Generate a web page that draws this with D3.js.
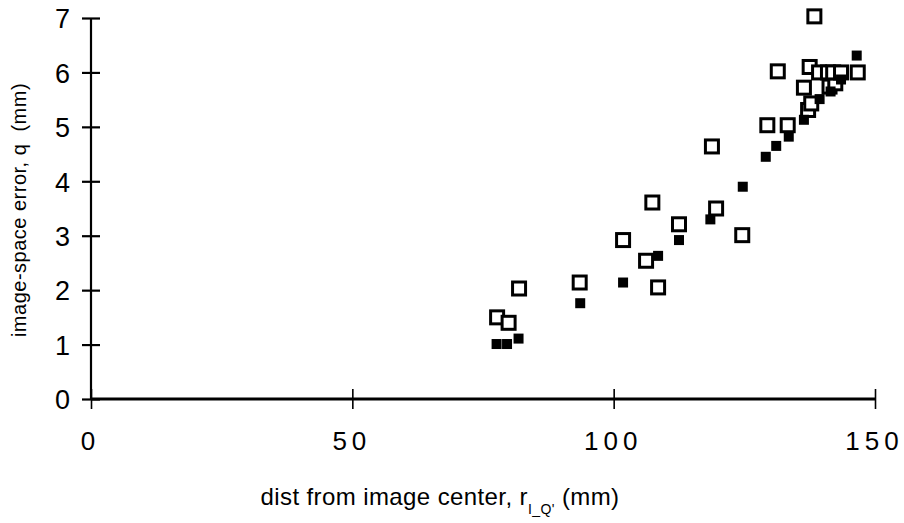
<!DOCTYPE html>
<html>
<head>
<meta charset="utf-8">
<script src="https://cdn.jsdelivr.net/npm/d3@7"></script>
<style>
  html, body { margin: 0; padding: 0; background: #fff; }
  svg { display: block; }
  text { font-family: "Liberation Sans", Arial, sans-serif; fill: #000; }
</style>
</head>
<body>
<svg id="chart" width="904" height="523"></svg>
<script>
// Distance from image centre (mm) and image-space error (mm), two measurement sets
const openX = [77.7, 79.9, 81.9, 93.5, 101.8, 106.2, 107.4, 108.5, 112.5, 118.8, 119.6, 124.6,
               129.4, 131.4, 133.3, 136.4, 137.2, 137.8, 137.5, 138.4, 139.3, 141.3, 142.4,
               141.0, 142.0, 143.5, 146.7];
const openY = [1.50, 1.40, 2.03, 2.14, 2.92, 2.54, 3.61, 2.05, 3.21, 4.64, 3.50, 3.01,
               5.03, 6.02, 5.03, 5.72, 5.31, 5.43, 6.10, 7.03, 6.00, 5.74, 5.80,
               6.00, 6.00, 6.00, 6.00];

const filledX = [77.6, 79.6, 81.8, 93.6, 101.8, 108.5, 112.5, 118.5, 124.7, 129.1, 131.1,
                 133.5, 136.4, 139.4, 141.5, 143.5, 146.5];
const filledY = [1.01, 1.01, 1.11, 1.76, 2.14, 2.63, 2.92, 3.30, 3.90, 4.45, 4.65,
                 4.82, 5.13, 5.51, 5.65, 5.87, 6.31];

const xTicks = [0, 50, 100, 150];
const yTicks = [0, 1, 2, 3, 4, 5, 6, 7];

const svg = d3.select("#chart");
const x = d3.scaleLinear().domain([0, 150]).range([91, 875]);
const y = d3.scaleLinear().domain([0, 7]).range([399, 18]);

// Y axis: crossing ticks
const yAxis = svg.append("g")
  .attr("transform", `translate(${x(0)},0)`)
  .call(d3.axisLeft(y).tickValues(yTicks).tickSize(0).tickPadding(21)
        .tickFormat(d3.format("d")));
yAxis.select(".domain").attr("stroke", "#000").attr("stroke-width", 2.2)
  .attr("d", `M0,${y(7)}V${y(0)}`);
yAxis.selectAll(".tick line").attr("x1", -9).attr("x2", 9)
  .attr("stroke", "#000").attr("stroke-width", 2.2);
yAxis.selectAll(".tick text").style("font-size", "27px").attr("dy", "0.36em");

// X axis: crossing ticks, spaced digits
const xAxis = svg.append("g")
  .attr("transform", `translate(0,${y(0)})`)
  .call(d3.axisBottom(x).tickValues(xTicks).tickSize(0).tickPadding(46)
        .tickFormat(d3.format("d")));
xAxis.select(".domain").attr("stroke", "#000").attr("stroke-width", 3.2)
  .attr("d", `M${x(0)},0H${x(150)}`);
xAxis.selectAll(".tick line").attr("y1", -10).attr("y2", 10)
  .attr("stroke", "#000").attr("stroke-width", 1.6);
xAxis.selectAll(".tick text")
  .style("font-size", "26px")
  .style("letter-spacing", "5px")
  .attr("dx", "-1px")
  .attr("dy", "0.2em");
xAxis.selectAll(".domain, .tick").raise();

// Open squares (white interior)
const openPts = openX.map((v, i) => ({ x: v, y: openY[i] }));
svg.append("g").selectAll("rect").data(openPts).join("rect")
  .attr("x", d => x(d.x) - 6.5)
  .attr("y", d => y(d.y) - 6.5)
  .attr("width", 13).attr("height", 13)
  .attr("fill", "#fff").attr("stroke", "#000").attr("stroke-width", 3);

// Filled squares
const filledPts = filledX.map((v, i) => ({ x: v, y: filledY[i] }));
svg.append("g").selectAll("rect").data(filledPts).join("rect")
  .attr("x", d => x(d.x) - 5)
  .attr("y", d => y(d.y) - 5)
  .attr("width", 10).attr("height", 10)
  .attr("fill", "#000");

// Axis titles
const xt = svg.append("text")
  .attr("x", 440).attr("y", 505)
  .attr("text-anchor", "middle")
  .style("font-size", "24px")
  .style("letter-spacing", "0.4px");
xt.append("tspan").text("dist from image center, r");
xt.append("tspan").attr("dy", 9).style("font-size", "14px").text("I_Q'");
xt.append("tspan").attr("dy", -9).text(" (mm)");

svg.append("text")
  .attr("transform", "translate(26,210) rotate(-90)")
  .attr("text-anchor", "middle")
  .style("font-size", "20px")
  .style("letter-spacing", "0.5px")
  .style("white-space", "pre")
  .text("image-space error, q  (mm)");
</script>
</body>
</html>
